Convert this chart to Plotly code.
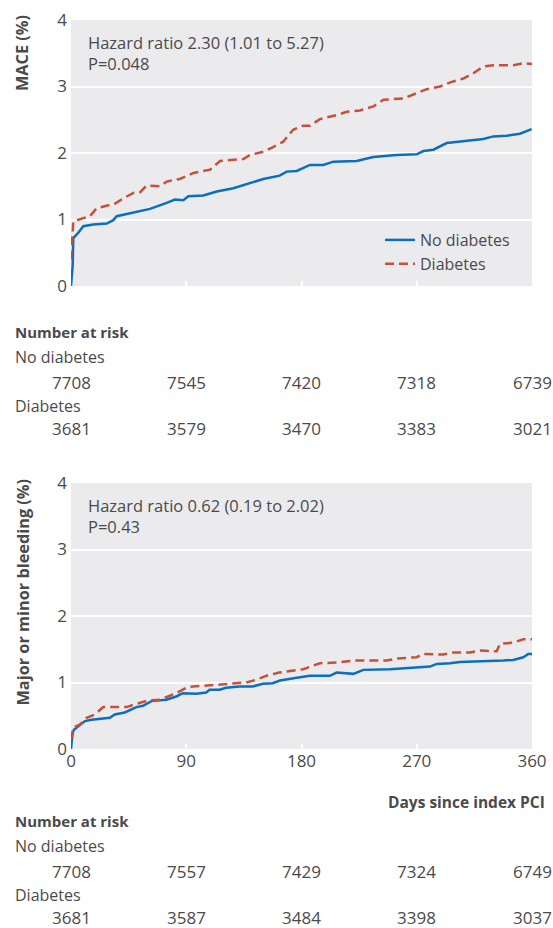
import plotly.graph_objects as go

W, H = 553, 928

# Kaplan-Meier style cumulative incidence curves (%), days since index PCI
mace_days_nodm = [0, 1.3, 1.8, 5.7, 9.6, 17.4, 27.9, 33, 35.7, 48.7,
                  61.7, 74.7, 81.2, 87.7, 91.6, 103.3, 113.8, 126.8, 139.8, 150.2,
                  163, 168.4, 176.3, 186.6, 197, 204.9, 223.1, 236.1, 254.4, 270,
                  275.2, 283, 293.4, 306.4, 322, 329.8, 340.2, 350.6, 359.7]
mace_nodm = [0, 0.3, 0.72, 0.8, 0.9, 0.925, 0.94, 0.99, 1.05, 1.11,
             1.16, 1.25, 1.30, 1.29, 1.35, 1.36, 1.42, 1.47, 1.55, 1.61,
             1.66, 1.72, 1.73, 1.82, 1.82, 1.87, 1.88, 1.94, 1.97, 1.98,
             2.03, 2.05, 2.15, 2.18, 2.21, 2.25, 2.26, 2.29, 2.36]

mace_days_dm = [0, 1.8, 9.6, 14.8, 20, 30.6, 34.5, 41, 48.7, 54,
                59, 69.5, 74.7, 85, 95.7, 108.6, 116.4, 134.6, 139.8, 150.2,
                157, 165.7, 173.5, 181.3, 186.6, 194.4, 207.4, 215.3, 225.6, 236.1,
                243.9, 259.5, 270, 277.8, 288.2, 297.3, 306.4, 314.2, 322, 329.8,
                345.4, 353.2, 360]
mace_dm = [0.4, 0.97, 1.02, 1.05, 1.17, 1.22, 1.24, 1.32, 1.40, 1.41,
           1.51, 1.50, 1.57, 1.61, 1.70, 1.75, 1.88, 1.91, 1.97, 2.02,
           2.08, 2.17, 2.35, 2.41, 2.41, 2.51, 2.57, 2.62, 2.64, 2.70,
           2.80, 2.82, 2.90, 2.96, 3.00, 3.07, 3.12, 3.20, 3.30, 3.32,
           3.32, 3.35, 3.34]

bleed_days_nodm = [0, 1.3, 2.3, 5.7, 10.9, 16.1, 22.6, 30.3, 34.2, 42,
                   51.1, 56.3, 62.8, 74.4, 82.2, 87.4, 97.8, 105.6, 108.2, 116,
                   121.1, 131.5, 141.9, 149.7, 157.5, 163.2, 176.3, 186.6, 202.2, 207.4,
                   220.5, 228.3, 249.1, 262.1, 270, 280.4, 285.6, 296, 303.8, 327.2,
                   337.6, 345.4, 353.2, 357.1, 360]
bleed_nodm = [0, 0.24, 0.29, 0.34, 0.42, 0.44, 0.45, 0.47, 0.52, 0.55,
              0.63, 0.65, 0.72, 0.74, 0.79, 0.84, 0.83, 0.85, 0.89, 0.89,
              0.92, 0.94, 0.94, 0.98, 0.99, 1.03, 1.07, 1.10, 1.10, 1.15,
              1.13, 1.19, 1.20, 1.22, 1.23, 1.24, 1.28, 1.29, 1.31, 1.32,
              1.33, 1.34, 1.38, 1.43, 1.43]

bleed_days_dm = [0, 1.8, 7, 12.2, 18.7, 25.2, 33, 43.3, 51.1, 60.2,
                 69.3, 77, 82.2, 90, 95.2, 103, 126.3, 136.7, 144.5, 152.3,
                 162.6, 171, 181.3, 194.4, 207.4, 220.5, 246.5, 254.4, 270, 275.2,
                 290.8, 298.6, 311.6, 319.4, 332.4, 335, 345.4, 353.2, 360]
bleed_dm = [0.14, 0.32, 0.37, 0.47, 0.52, 0.63, 0.63, 0.63, 0.68, 0.73,
            0.74, 0.80, 0.84, 0.92, 0.94, 0.95, 0.99, 1.00, 1.04, 1.10,
            1.15, 1.17, 1.20, 1.29, 1.30, 1.33, 1.33, 1.36, 1.38, 1.43,
            1.42, 1.45, 1.45, 1.48, 1.47, 1.58, 1.60, 1.65, 1.65]

# Number at risk tables
risk_days = [0, 90, 180, 270, 360]
mace_risk_nodm = [7708, 7545, 7420, 7318, 6739]
mace_risk_dm = [3681, 3579, 3470, 3383, 3021]
bleed_risk_nodm = [7708, 7557, 7429, 7324, 6749]
bleed_risk_dm = [3681, 3587, 3484, 3398, 3037]

x_ticks = [0, 90, 180, 270, 360]
y_ticks = [0, 1, 2, 3, 4]

BLUE = "#0a6fbd"
RED = "#c5503b"
BG = "#ebebee"
TXT = "#4a4a4a"
FONT = "Open Sans"


def px_x(p):
    return p / W


def px_y(p):
    return 1 - p / H


fig = go.Figure()

line_blue = dict(color=BLUE, width=2.5)
line_red = dict(color=RED, width=2.5, dash="9px,5px")

fig.add_trace(go.Scatter(x=mace_days_nodm, y=mace_nodm, mode="lines", line=line_blue,
                         name="No diabetes", xaxis="x", yaxis="y"))
fig.add_trace(go.Scatter(x=mace_days_dm, y=mace_dm, mode="lines", line=line_red,
                         name="Diabetes", xaxis="x", yaxis="y"))
fig.add_trace(go.Scatter(x=bleed_days_nodm, y=bleed_nodm, mode="lines", line=line_blue,
                         name="No diabetes", xaxis="x2", yaxis="y2", showlegend=False))
fig.add_trace(go.Scatter(x=bleed_days_dm, y=bleed_dm, mode="lines", line=line_red,
                         name="Diabetes", xaxis="x2", yaxis="y2", showlegend=False))

x_dom = [px_x(71), px_x(532)]
top_dom = [px_y(286), px_y(20)]
bot_dom = [px_y(749), px_y(483)]

common_x = dict(range=[0, 360], tickvals=x_ticks, ticks="inside", ticklen=5,
                tickwidth=2, tickcolor="white", showgrid=False, zeroline=False,
                showline=False, domain=x_dom,
                tickfont=dict(family=FONT, size=17, color=TXT))
common_y = dict(range=[0, 4], tickvals=y_ticks, showgrid=True, gridcolor="white",
                gridwidth=2, zeroline=False, showline=False, ticks="",
                ticklabelstandoff=3,
                tickfont=dict(family=FONT, size=17, color=TXT))

fig.update_layout(
    width=W, height=H,
    margin=dict(l=0, r=0, t=0, b=0, autoexpand=False),
    paper_bgcolor="white",
    plot_bgcolor=BG,
    xaxis=dict(common_x, anchor="y", showticklabels=False),
    yaxis=dict(common_y, anchor="x", domain=top_dom),
    xaxis2=dict(common_x, anchor="y2", showticklabels=True),
    yaxis2=dict(common_y, anchor="x2", domain=bot_dom),
    showlegend=True,
    legend=dict(x=px_x(380), y=px_y(223), xanchor="left", yanchor="top",
                bgcolor="rgba(0,0,0,0)", font=dict(family=FONT, size=16, color=TXT),
                tracegroupgap=0),
)

ann = []


def text(x, y, s, size=16, bold=False, xanchor="left", xref="paper", align="left"):
    ann.append(dict(x=x, y=y, xref=xref, yref="paper", text=f"<b>{s}</b>" if bold else s,
                    showarrow=False, xanchor=xanchor, yanchor="middle", align=align,
                    font=dict(family=FONT, size=size, color=TXT)))


# axis titles
for label, top in [("MACE (%)", 13), ("Major or minor bleeding (%)", 477)]:
    ann.append(dict(x=px_x(22), y=px_y(top), xref="paper", yref="paper", text=f"<b>{label}</b>",
                    textangle=-90, showarrow=False, xanchor="center", yanchor="top",
                    font=dict(family=FONT, size=16.3, color=TXT)))

# hazard ratio notes
text(px_x(86), px_y(53), "Hazard ratio 2.30 (1.01 to 5.27)<br>P=0.048", size=16.5)
text(px_x(86), px_y(516), "Hazard ratio 0.62 (0.19 to 2.02)<br>P=0.43", size=16.5)

text(px_x(547), px_y(802), "Days since index PCI", bold=True, xanchor="right", size=15.5)

# number at risk tables
for base, nodm, dm in [(332, mace_risk_nodm, mace_risk_dm), (821, bleed_risk_nodm, bleed_risk_dm)]:
    text(px_x(13), px_y(base), "Number at risk", bold=True, size=15)
    text(px_x(13), px_y(base + 25), "No diabetes")
    text(px_x(13), px_y(base + 74), "Diabetes")
    for d, a, b in zip(risk_days, nodm, dm):
        text(d, px_y(base + 50), str(a), xanchor="center", xref="x", size=17)
        text(d, px_y(base + 96), str(b), xanchor="center", xref="x", size=17)

fig.update_layout(annotations=ann)

fig.write_html("out.html")
